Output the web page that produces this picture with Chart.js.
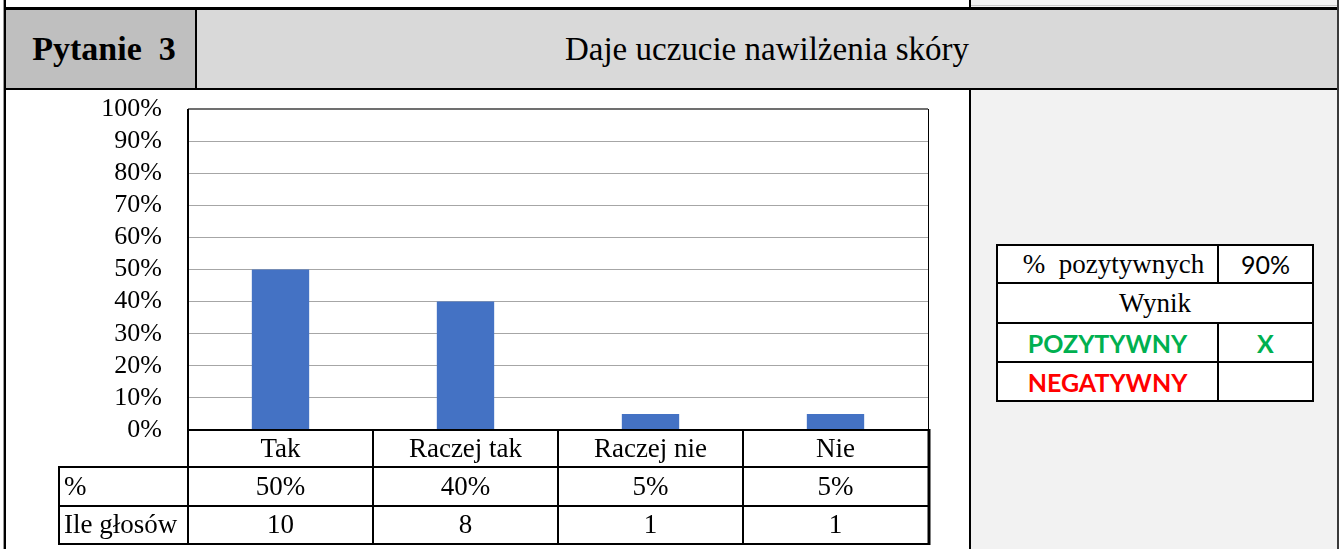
<!DOCTYPE html>
<html>
<head>
<meta charset="utf-8">
<script src="https://cdn.jsdelivr.net/npm/chart.js@4.4.1/dist/chart.umd.min.js"></script>
<style>
  html, body { margin:0; padding:0; background:#fff; }
  body { width:1341px; height:549px; position:relative; overflow:hidden; font-family:"Liberation Serif", "Times New Roman", serif; }
  .abs { position:absolute; }
  .cell { position:absolute; display:flex; align-items:center; justify-content:center; white-space:pre; }
</style>
</head>
<body>
<!-- top strip -->
<div class="abs" style="left:6px;top:0;width:964px;height:8px;background:#fff;"></div>
<div class="abs" style="left:971px;top:0;width:366px;height:8px;background:#f2f2f2;"></div>
<div class="abs" style="left:971px;top:5px;width:366px;height:1px;background:#c8c8c8;"></div>
<!-- header -->
<div class="abs" style="left:6px;top:10px;width:190px;height:78px;background:#bfbfbf;"></div>
<div class="abs" style="left:197px;top:10px;width:1140px;height:78px;background:#d9d9d9;"></div>
<div class="cell" id="qLabel" style="left:6px;top:10px;width:196px;height:78px;font-weight:bold;font-size:34px;"></div>
<div class="cell" id="qTitle" style="left:197px;top:10px;width:1140px;height:78px;font-size:33px;"></div>
<!-- body backgrounds -->
<div class="abs" style="left:971px;top:90px;width:366px;height:459px;background:#f2f2f2;"></div>
<!-- lines -->
<div class="abs" style="left:4px;top:7px;width:1335px;height:3px;background:#000;"></div>
<div class="abs" style="left:4px;top:88px;width:1335px;height:2px;background:#000;"></div>
<div class="abs" style="left:195px;top:10px;width:2px;height:78px;background:#000;"></div>
<div class="abs" style="left:4px;top:0;width:2px;height:549px;background:#000;"></div>
<div class="abs" style="left:3px;top:0;width:1px;height:549px;background:#9a9a9a;"></div>
<div class="abs" style="left:969px;top:0;width:2px;height:8px;background:#000;"></div>
<div class="abs" style="left:969px;top:90px;width:2px;height:459px;background:#000;"></div>
<div class="abs" style="left:1337px;top:0;width:2px;height:549px;background:#3a3a3a;"></div>

<!-- chart -->
<div class="abs" style="left:6px;top:90px;width:963px;height:459px;">
  <canvas id="chart"></canvas>
</div>

<!-- summary table -->
<div class="abs" style="left:996px;top:244px;width:318px;height:158px;border:2px solid #000;box-sizing:border-box;background:#fff;"></div>
<div class="abs" style="left:996px;top:282px;width:318px;height:2px;background:#000;"></div>
<div class="abs" style="left:996px;top:322px;width:318px;height:2px;background:#000;"></div>
<div class="abs" style="left:996px;top:361px;width:318px;height:2px;background:#000;"></div>
<div class="abs" style="left:1217px;top:244px;width:2px;height:39px;background:#000;"></div>
<div class="abs" style="left:1217px;top:322px;width:2px;height:80px;background:#000;"></div>
<div class="cell" id="posLabel" style="left:1004px;top:246px;width:219px;height:36px;font-size:27px;"></div>
<div class="cell" id="posValue" style="left:1219px;top:246px;width:93px;height:36px;font-size:25px;font-family:Lato, 'Open Sans', sans-serif;"></div>
<div class="cell" id="resLabel" style="left:998px;top:284px;width:314px;height:38px;font-size:27px;"></div>
<div class="cell" id="okLabel" style="left:998px;top:324px;width:219px;height:37px;font-size:25px;font-weight:bold;color:#00b050;font-family:Lato, 'Open Sans', sans-serif;"></div>
<div class="cell" id="okMark" style="left:1219px;top:324px;width:93px;height:37px;font-size:25px;font-weight:bold;color:#00b050;font-family:Lato, 'Open Sans', sans-serif;"></div>
<div class="cell" id="badLabel" style="left:998px;top:363px;width:219px;height:37px;font-size:25px;font-weight:bold;color:#ff0000;font-family:Lato, 'Open Sans', sans-serif;"></div>
<div class="cell" id="badMark" style="left:1219px;top:363px;width:93px;height:37px;font-size:25px;font-weight:bold;color:#00b050;font-family:Lato, 'Open Sans', sans-serif;"></div>

<script>
// ---- data ----
const questionLabel = 'Pytanie  3';
const questionTitle = 'Daje uczucie nawilżenia skóry';
const categories = ['Tak', 'Raczej tak', 'Raczej nie', 'Nie'];
const shares = [0.50, 0.40, 0.05, 0.05];
const votes = [10, 8, 1, 1];
const rowLabels = ['%', 'Ile głosów'];
const yTickValues = [0, 0.1, 0.2, 0.3, 0.4, 0.5, 0.6, 0.7, 0.8, 0.9, 1.0];
const positiveLabel = '%  pozytywnych';
const positiveShare = '90%';
const resultLabel = 'Wynik';
const outcomeLabels = ['POZYTYWNY', 'NEGATYWNY'];
const outcomeMarks = ['X', ''];

// ---- text ----
document.getElementById('qLabel').textContent = questionLabel;
document.getElementById('qTitle').textContent = questionTitle;
document.getElementById('posLabel').textContent = positiveLabel;
document.getElementById('posValue').textContent = positiveShare;
document.getElementById('resLabel').textContent = resultLabel;
document.getElementById('okLabel').textContent = outcomeLabels[0];
document.getElementById('badLabel').textContent = outcomeLabels[1];
document.getElementById('okMark').textContent = outcomeMarks[0];
document.getElementById('badMark').textContent = outcomeMarks[1];

const pct = v => Math.round(v * 100) + '%';
const SERIF = '"Liberation Serif", "Times New Roman", serif';

const tablePlugin = {
  id: 'dataTable',
  afterDraw(chart) {
    const { ctx, chartArea: a } = chart;
    const n = categories.length;
    const L = Math.round(a.left), R = Math.round(a.right), T = Math.round(a.top), B = Math.round(a.bottom);
    const cw = (R - L) / n;
    const y0 = B, y1 = B + 37, y2 = B + 76, y3 = B + 114;
    const labelLeft = 53;
    ctx.save();
    // plot border top / right
    ctx.strokeStyle = '#404040'; ctx.lineWidth = 1.5;
    ctx.beginPath(); ctx.moveTo(L, T); ctx.lineTo(R, T); ctx.stroke();
    ctx.strokeStyle = '#000'; ctx.lineWidth = 1;
    ctx.beginPath(); ctx.moveTo(R + 0.5, T); ctx.lineTo(R + 0.5, y0); ctx.stroke();
    // table lines
    ctx.lineWidth = 2; ctx.strokeStyle = '#000';
    ctx.beginPath();
    ctx.moveTo(L, T); ctx.lineTo(L, y3);
    ctx.moveTo(L, y0); ctx.lineTo(R + 1, y0);
    [y1, y2, y3].forEach(y => { ctx.moveTo(labelLeft, y); ctx.lineTo(R + 1, y); });
    ctx.moveTo(labelLeft, y1 - 1); ctx.lineTo(labelLeft, y3 + 1);
    for (let i = 1; i < n; i++) {
      const x = Math.round(L + i * cw);
      ctx.moveTo(x, y0); ctx.lineTo(x, y3);
    }
    ctx.stroke();
    ctx.lineWidth = 3;
    ctx.beginPath(); ctx.moveTo(R + 1, y0 - 1); ctx.lineTo(R + 1, y3 + 1); ctx.stroke();
    // text
    ctx.fillStyle = '#000';
    ctx.font = '27px ' + SERIF;
    ctx.textBaseline = 'middle';
    ctx.textAlign = 'center';
    const xs = chart.scales.x;
    categories.forEach((c, i) => {
      const cx = xs.getPixelForValue(i);
      ctx.fillText(c, cx, (y0 + y1) / 2 + 1);
      ctx.fillText(pct(shares[i]), cx, (y1 + y2) / 2 + 1);
      ctx.fillText(String(votes[i]), cx, (y2 + y3) / 2 + 1);
    });
    ctx.textAlign = 'left';
    ctx.fillText(rowLabels[0], labelLeft + 5, (y1 + y2) / 2 + 1);
    ctx.fillText(rowLabels[1], labelLeft + 5, (y2 + y3) / 2 + 1);
    ctx.restore();
  }
};

new Chart(document.getElementById('chart'), {
  type: 'bar',
  data: {
    labels: categories,
    datasets: [{
      data: shares,
      backgroundColor: '#4472c4',
      borderWidth: 0,
      categoryPercentage: 0.31,
      barPercentage: 1.0
    }]
  },
  options: {
    responsive: true,
    maintainAspectRatio: false,
    animation: false,
    events: [],
    layout: { padding: { top: 19, right: 41, bottom: 119, left: 0 } },
    plugins: { legend: { display: false }, tooltip: { enabled: false } },
    scales: {
      x: { display: false },
      y: {
        min: 0, max: 1,
        afterFit(scale) { scale.width = 182; scale.paddingTop = 10; scale.paddingBottom = 10; },
        afterBuildTicks(scale) { scale.ticks = yTickValues.map(v => ({ value: v })); },
        border: { display: false },
        grid: {
          drawTicks: false,
          lineWidth: 1,
          color: c => (c.tick && (Math.abs(c.tick.value) < 1e-9 || Math.abs(c.tick.value - 1) < 1e-9)) ? 'rgba(0,0,0,0)' : '#a6a6a6'
        },
        ticks: {
          autoSkip: false,
          padding: 26,
          color: '#000',
          font: { family: SERIF, size: 26 },
          callback: v => pct(v)
        }
      }
    }
  },
  plugins: [tablePlugin]
});
</script>
</body>
</html>
